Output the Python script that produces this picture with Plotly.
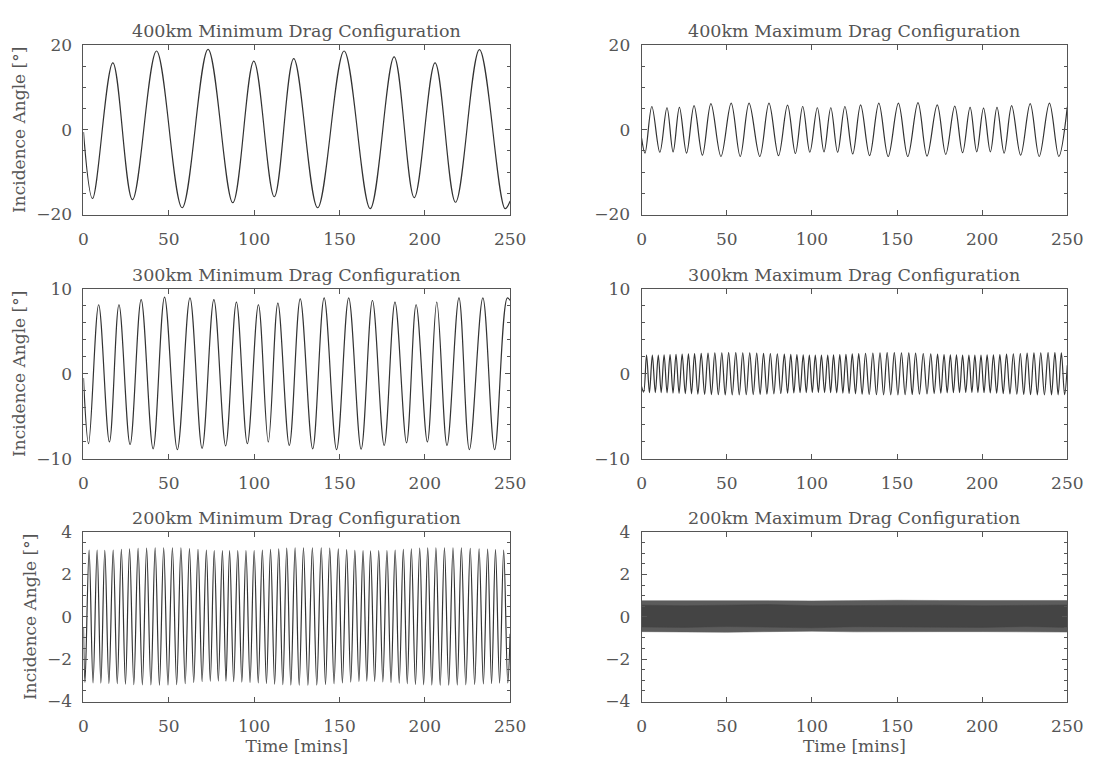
import plotly.graph_objects as go

# ---------------- data (extrema) ----------------
# 400 km, minimum drag
t_400_min = [0, 5.3, 17.2, 28.7, 42.8, 57.8, 73.0, 87.5, 99.8, 111.8, 123.2, 137.2,
             152.7, 168.0, 182.0, 193.8, 206.0, 218.0, 232.0, 247.0, 250]
a_400_min = [-0.5, -16.2, 15.8, -16.5, 18.6, -18.4, 19.0, -17.2, 16.2, -15.8, 16.8, -18.4,
             18.6, -18.6, 17.2, -16.0, 15.8, -17.1, 18.9, -18.6, -16.8]

# 400 km, maximum drag
t_400_max = [0, 2.0, 6.0, 10.7, 14.9, 18.5, 22.2, 26.4, 30.8, 35.7, 40.7, 46.6, 52.6,
             57.9, 63.1, 69.4, 74.8, 80.4, 85.7, 90.3, 94.6, 98.8, 103.2, 107.1, 111.1,
             115.1, 119.4, 124.0, 128.6, 133.9, 139.3, 144.8, 150.8, 156.3, 162.3, 167.6,
             173.6, 178.6, 183.9, 188.5, 192.9, 196.8, 200.8, 204.8, 208.7, 212.9, 217.3,
             222.6, 228.2, 233.5, 239.5, 245.0, 250]
a_400_max = [-2.0, -5.5, 5.5, -5.3, 5.2, -5.2, 5.3, -5.5, 5.7, -6.0, 6.2, -6.3, 6.3,
             -6.3, 6.3, -6.3, 6.3, -6.1, 5.8, -5.6, 5.5, -5.3, 5.2, -5.2, 5.2,
             -5.3, 5.5, -5.7, 5.9, -6.1, 6.3, -6.3, 6.3, -6.3, 6.4, -6.2,
             5.9, -5.8, 5.6, -5.4, 5.3, -5.2, 5.1, -5.2, 5.3, -5.5, 5.7,
             -6.0, 6.2, -6.3, 6.3, -6.3, 5.4]

# 300 km, minimum drag
t_300_min = [0, 3.0, 8.9, 15.2, 20.8, 27.3, 33.8, 40.8, 47.5, 55.0, 62.4, 69.5, 76.4,
             83.3, 89.6, 96.0, 102.5, 108.3, 113.9, 120.6, 127.0, 134.3, 141.0, 148.3,
             155.4, 162.7, 169.3, 176.2, 182.5, 189.3, 194.9, 201.5, 207.0, 213.0, 220.0,
             226.1, 234.0, 240.9, 248.3, 250]
a_300_min = [-0.5, -8.2, 8.1, -8.0, 8.1, -8.3, 8.7, -8.8, 9.0, -8.9, 8.9, -8.75, 8.7,
             -8.45, 8.4, -8.2, 8.1, -8.0, 8.3, -8.4, 8.8, -8.8, 8.9, -8.9,
             8.9, -8.85, 8.6, -8.4, 8.4, -8.1, 8.1, -8.0, 8.4, -8.4, 8.9,
             -8.9, 8.9, -8.9, 8.9, 8.6]

# 300 km, maximum drag
t_300_max_pk = [2.9, 6.3, 9.8, 13.2, 16.7, 20.2, 23.8, 27.5, 31.1, 35.0, 39.0, 43.0, 47.1,
                51.1, 55.3, 59.4, 63.5, 67.6, 71.6, 75.6, 79.7, 83.8, 87.6, 91.2, 94.9,
                98.5, 102.0, 105.6, 109.3, 112.7, 116.4, 120.0, 123.7, 127.5, 131.5, 135.8,
                140.0, 144.2, 148.4, 152.6, 156.9, 160.9, 165.4, 169.8, 173.8, 177.6, 181.3,
                184.9, 188.5, 192.2, 195.7, 199.3, 202.9, 206.6, 210.4, 214.3, 218.3, 222.4,
                226.4, 230.4, 234.4, 238.7, 242.7, 246.5]
a_300_max_pk = [2.2, 2.2, 2.2, 2.22, 2.25, 2.28, 2.3, 2.33, 2.37, 2.4, 2.43, 2.45, 2.47,
                2.48, 2.48, 2.47, 2.45, 2.43, 2.4, 2.37, 2.34, 2.3, 2.27, 2.24, 2.21,
                2.2, 2.19, 2.19, 2.2, 2.22, 2.25, 2.29, 2.33, 2.37, 2.41, 2.44,
                2.47, 2.48, 2.48, 2.47, 2.45, 2.42, 2.38, 2.34, 2.3, 2.26, 2.23,
                2.21, 2.2, 2.19, 2.19, 2.2, 2.21, 2.23, 2.26, 2.3, 2.34, 2.38,
                2.42, 2.45, 2.47, 2.48, 2.48, 2.47]
t_300_max_tr = [1.2, 4.6, 8.05, 11.5, 14.95, 18.45, 22.0, 25.65, 29.3, 33.05, 37.0, 41.0,
                45.05, 49.1, 53.2, 57.35, 61.45, 65.55, 69.6, 73.6, 77.65, 81.75, 85.7,
                89.4, 93.05, 96.7, 100.25, 103.8, 107.45, 111.0, 114.55, 118.2, 121.85,
                125.6, 129.5, 133.65, 137.9, 142.1, 146.3, 150.5, 154.75, 158.9, 163.15,
                167.6, 171.8, 175.7, 179.45, 183.1, 186.7, 190.35, 193.95, 197.5, 201.1,
                204.75, 208.5, 212.35, 216.3, 220.35, 224.4, 228.4, 232.4, 236.55, 240.7,
                244.6, 248.4]
a_300_max_tr = [-2.15, -2.2, -2.2, -2.21, -2.23, -2.26, -2.29, -2.32, -2.35, -2.39, -2.42,
                -2.44, -2.46, -2.48, -2.48, -2.47, -2.46, -2.44, -2.41, -2.38, -2.35,
                -2.31, -2.28, -2.25, -2.22, -2.2, -2.19, -2.19, -2.2, -2.21, -2.24,
                -2.27, -2.31, -2.35, -2.39, -2.43, -2.46, -2.48, -2.48, -2.47, -2.46,
                -2.43, -2.4, -2.36, -2.32, -2.28, -2.24, -2.22, -2.2, -2.19, -2.19,
                -2.2, -2.22, -2.24, -2.28, -2.32, -2.36, -2.4, -2.43, -2.46, -2.47,
                -2.48, -2.48, -2.47, -2.46]
t_300_max_ends = [0, 250]
a_300_max_ends = [-1.5, 1.0]

# 200 km, minimum drag
t_200_min_pk = [3.3, 8.0, 12.5, 17.4, 22.2, 27.0, 32.0, 37.0, 42.0, 47.0, 52.1, 57.1, 62.1,
                67.1, 72.0, 76.6, 81.4, 85.6, 90.4, 95.2, 100.0, 104.8, 109.6, 114.4, 119.1,
                124.0, 128.9, 134.1, 139.3, 144.3, 149.3, 154.2, 159.0, 163.8, 168.2, 173.0,
                177.8, 182.6, 187.4, 192.1, 197.0, 201.7, 206.5, 211.5, 216.5, 221.4, 226.6,
                231.8, 236.8, 241.4, 246.2]
a_200_min_pk = [3.15, 3.15, 3.14, 3.15, 3.18, 3.21, 3.23, 3.24, 3.25, 3.26, 3.26, 3.25, 3.22,
                3.18, 3.15, 3.13, 3.12, 3.12, 3.12, 3.13, 3.13, 3.15, 3.18, 3.21, 3.24,
                3.26, 3.26, 3.26, 3.25, 3.24, 3.21, 3.17, 3.14, 3.12, 3.11, 3.12,
                3.13, 3.15, 3.18, 3.21, 3.24, 3.25, 3.26, 3.26, 3.26, 3.25, 3.23,
                3.21, 3.19, 3.17, 3.15]
t_200_min_tr = [0.9, 5.6, 10.2, 14.9, 19.8, 24.6, 29.5, 34.5, 39.5, 44.5, 49.5, 54.6, 59.6,
                64.6, 69.5, 74.3, 79.0, 83.5, 88.0, 92.8, 97.6, 102.4, 107.2, 112.0, 116.8,
                121.5, 126.4, 131.5, 136.7, 141.8, 146.8, 151.7, 156.6, 161.4, 166.0, 170.6,
                175.4, 180.2, 185.0, 189.7, 194.5, 199.3, 204.1, 209.0, 214.0, 219.0, 224.0,
                229.2, 234.3, 239.1, 243.8, 248.6]
a_200_min_tr = [-3.1, -3.12, -3.13, -3.14, -3.16, -3.18, -3.2, -3.21, -3.22, -3.23, -3.22,
                -3.2, -3.16, -3.1, -3.06, -3.04, -3.03, -3.04, -3.06, -3.08, -3.1, -3.12,
                -3.15, -3.18, -3.2, -3.22, -3.23, -3.23, -3.22, -3.2, -3.16, -3.12, -3.08,
                -3.05, -3.04, -3.05, -3.07, -3.1, -3.13, -3.16, -3.19, -3.21, -3.22, -3.23,
                -3.23, -3.22, -3.21, -3.19, -3.17, -3.15, -3.13, -3.12]
t_200_min_ends = [0, 250]
a_200_min_ends = [-0.5, -0.8]

# 200 km, maximum drag: oscillation too dense to resolve -> envelope (outer) and solid core
t_200_max = [0, 25, 50, 75, 100, 125, 150, 175, 200, 225, 250]
a_200_max_upper = [0.76, 0.77, 0.78, 0.76, 0.75, 0.77, 0.78, 0.77, 0.76, 0.77, 0.77]
a_200_max_lower = [-0.70, -0.72, -0.73, -0.70, -0.68, -0.71, -0.72, -0.70, -0.70, -0.72, -0.72]
a_200_max_core_upper = [0.55, 0.52, 0.55, 0.58, 0.52, 0.54, 0.56, 0.55, 0.52, 0.55, 0.56]
a_200_max_core_lower = [-0.48, -0.5, -0.46, -0.5, -0.52, -0.47, -0.48, -0.5, -0.5, -0.46, -0.5]

titles = ["400km Minimum Drag Configuration", "400km Maximum Drag Configuration",
          "300km Minimum Drag Configuration", "300km Maximum Drag Configuration",
          "200km Minimum Drag Configuration", "200km Maximum Drag Configuration"]
x_ticks = [0, 50, 100, 150, 200, 250]
y_ranges = [[-20, 20], [-10, 10], [-4, 4]]
y_dticks = [20, 10, 2]
y_minor = [5, 2, 0.5]


def merge(ta, va, tb, vb, tc=(), vc=()):
    pts = sorted(zip(list(ta) + list(tb) + list(tc), list(va) + list(vb) + list(vc)))
    return [p[0] for p in pts], [p[1] for p in pts]


t_300_max, a_300_max = merge(t_300_max_pk, a_300_max_pk, t_300_max_tr, a_300_max_tr,
                             t_300_max_ends, a_300_max_ends)
t_200_min, a_200_min = merge(t_200_min_pk, a_200_min_pk, t_200_min_tr, a_200_min_tr,
                             t_200_min_ends, a_200_min_ends)

# ---------------- figure ----------------
W, H = 1100, 769
FONT = "DejaVu Serif"
GREY = "#555555"
LINE = "#333333"

x_dom = [[80 / W, 515 / W], [649 / W, 1083 / W]]
rows_px = [(36, 210), (286, 461), (536, 710)]
y_dom = [[1 - b / H, 1 - t / H] for (t, b) in rows_px]

fig = go.Figure()

series = [(t_400_min, a_400_min), (t_400_max, a_400_max),
          (t_300_min, a_300_min), (t_300_max, a_300_max),
          (t_200_min, a_200_min), None]


def band(lo, hi, color, xa, ya):
    fig.add_trace(go.Scatter(x=t_200_max, y=lo, mode="lines", xaxis=xa, yaxis=ya,
                             line=dict(color=color, width=0.5),
                             showlegend=False, hoverinfo="skip"))
    fig.add_trace(go.Scatter(x=t_200_max, y=hi, mode="lines", xaxis=xa, yaxis=ya,
                             line=dict(color=color, width=0.5), fill="tonexty",
                             fillcolor=color, showlegend=False, hoverinfo="skip"))


for i in range(6):
    r, c = divmod(i, 2)
    k = i + 1
    xa = f"x{k}" if k > 1 else "x"
    ya = f"y{k}" if k > 1 else "y"
    if series[i] is not None:
        tx, vy = series[i]
        fig.add_trace(go.Scatter(x=tx, y=vy, mode="lines", xaxis=xa, yaxis=ya,
                                 line=dict(color=LINE, width=1.2, shape="spline", smoothing=1),
                                 showlegend=False, hoverinfo="skip"))
    else:
        band(a_200_max_lower, a_200_max_upper, "#5c5c5c", xa, ya)
        band(a_200_max_core_lower, a_200_max_core_upper, "#444444", xa, ya)

    xkey = "xaxis" if k == 1 else f"xaxis{k}"
    ykey = "yaxis" if k == 1 else f"yaxis{k}"
    fig.layout[xkey] = dict(
        domain=x_dom[c], anchor=ya, range=[0, 250], tickvals=x_ticks,
        ticks="inside", ticklen=5, tickcolor=GREY, showline=True, linecolor=GREY,
        linewidth=1, mirror="ticks", showgrid=False, zeroline=False,
        ticklabelstandoff=9,
        tickfont=dict(family=FONT, size=17, color=GREY),
        title=dict(text="Time [mins]", font=dict(family=FONT, size=17, color=GREY), standoff=5)
        if r == 2 else None,
    )
    fig.layout[ykey] = dict(
        domain=y_dom[r], anchor=xa, range=y_ranges[r], dtick=y_dticks[r], tick0=0,
        ticks="inside", ticklen=5, tickcolor=GREY, showline=True, linecolor=GREY,
        linewidth=1, mirror="ticks", showgrid=False, zeroline=False,
        ticklabelstandoff=7,
        minor=dict(ticks="inside", dtick=y_minor[r], ticklen=3, tickcolor=GREY),
        tickfont=dict(family=FONT, size=17, color=GREY),
        title=dict(text="Incidence Angle [°]", font=dict(family=FONT, size=17, color=GREY),
                   standoff=6) if c == 0 else None,
    )
    fig.add_annotation(text=titles[i], xref="paper", yref="paper",
                       x=sum(x_dom[c]) / 2, y=y_dom[r][1], xanchor="center", yanchor="bottom",
                       yshift=2, showarrow=False,
                       font=dict(family=FONT, size=17.5, color=GREY))

fig.update_layout(width=W, height=H, margin=dict(l=0, r=0, t=0, b=0),
                  paper_bgcolor="white", plot_bgcolor="white",
                  font=dict(family=FONT, color=GREY))

fig.write_html("out.html", post_script="document.body.style.margin='0px';")
